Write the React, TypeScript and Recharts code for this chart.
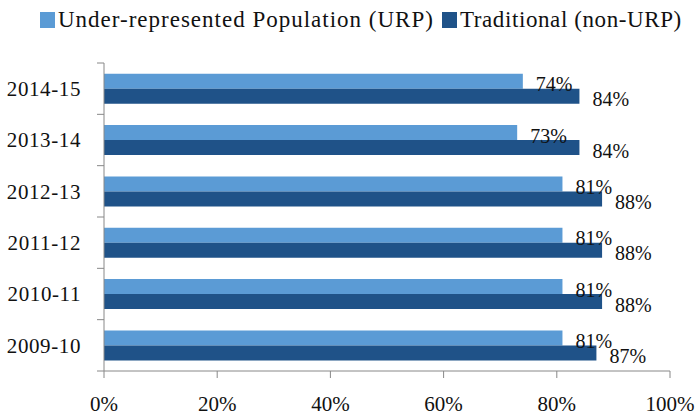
import { BarChart, Bar, XAxis, YAxis, LabelList } from 'recharts'

const years = ['2014-15', '2013-14', '2012-13', '2011-12', '2010-11', '2009-10']
const urp = [74, 73, 81, 81, 81, 81]
const traditional = [84, 84, 88, 88, 88, 87]
const xTicks = [0, 20, 40, 60, 80, 100]

const data = years.map((year, i) => ({ year, urp: urp[i], trad: traditional[i] }))

const FONT = '"Liberation Serif", serif'
const LIGHT = '#5B9BD5'
const DARK = '#1F5288'

// category label plus a small tick at the band boundary (Excel style)
function YearTick(props: any) {
  const { x, y, payload, index, visibleTicksCount } = props
  const half = payload && payload.offset > 5 ? payload.offset : 25.6
  return (
    <g>
      <text x={x - 23} y={y} dy="0.35em" textAnchor="end" fill="#111" fontSize={21} letterSpacing={0.6} fontFamily={FONT}>
        {payload.value}
      </text>
      <line x1={x - 7} x2={x} y1={y - half} y2={y - half} stroke="#888" />
      {index === visibleTicksCount - 1 && <line x1={x - 7} x2={x} y1={y + half} y2={y + half} stroke="#888" />}
    </g>
  )
}

function LegendBox() {
  const item = (color: string, text: string, gap: number) => (
    <span style={{ display: 'inline-flex', alignItems: 'center', marginRight: gap }}>
      <span style={{ width: 15, height: 16, background: color, display: 'inline-block', marginRight: 3 }} />
      <span>{text}</span>
    </span>
  )
  return (
    <div style={{ position: 'absolute', left: 40, top: 5, fontFamily: FONT, fontSize: 23, letterSpacing: 1, color: '#111', whiteSpace: 'nowrap', lineHeight: '30px' }}>
      {item(LIGHT, 'Under-represented Population (URP)', 8)}
      <span style={{ letterSpacing: 0.6 }}>{item(DARK, 'Traditional (non-URP)', 0)}</span>
    </div>
  )
}

export default function App() {
  return (
    <div style={{ position: 'absolute', left: 0, top: 0, width: 700, height: 419, background: '#fff' }}>
      <BarChart
        width={700}
        height={419}
        data={data}
        layout="vertical"
        margin={{ top: 63, right: 30, bottom: 0, left: 0 }}
        barCategoryGap="21%"
        barGap={0}
      >
        <YAxis dataKey="year" type="category" width={104} stroke="#888" tickLine={false}
          tickSize={0} tickMargin={0} tick={<YearTick />} />
        <XAxis type="number" domain={[0, 100]} ticks={xTicks} tickFormatter={(v) => v + '%'}
          stroke="#888" tickSize={7} tickMargin={18} height={48}
          tick={{ fill: '#111', fontSize: 21, fontFamily: FONT }} />
        <Bar dataKey="urp" fill={LIGHT} isAnimationActive={false}>
          <LabelList dataKey="urp" position="right" offset={13} formatter={(v: any) => v + '%'}
            style={{ fill: '#111', fontSize: 20, fontFamily: FONT }} dy={3} />
        </Bar>
        <Bar dataKey="trad" fill={DARK} isAnimationActive={false}>
          <LabelList dataKey="trad" position="right" offset={13} formatter={(v: any) => v + '%'}
            style={{ fill: '#111', fontSize: 20, fontFamily: FONT }} dy={3} />
        </Bar>
      </BarChart>
      <LegendBox />
    </div>
  )
}
